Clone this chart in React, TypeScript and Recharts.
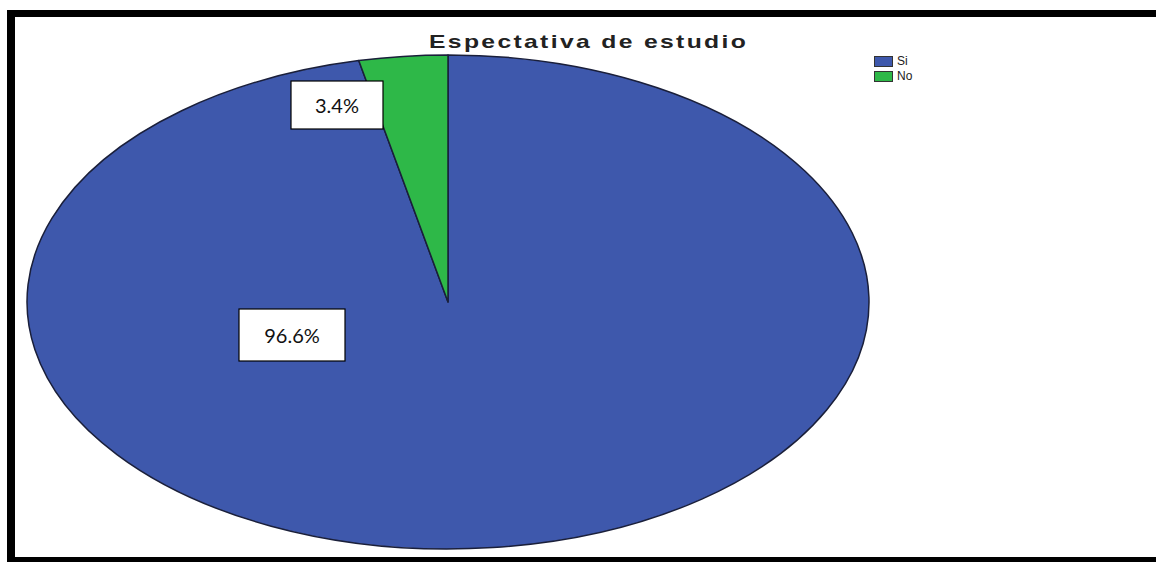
import React from 'react'
import { PieChart, Pie, Cell, Legend } from 'recharts'

const categories = ['Si', 'No']
const percents = [96.6, 3.4]
const labels = ['96.6%', '3.4%']
const colors = ['#3E58AC', '#2EB848']

const TITLE = 'Espectativa de estudio'
const W = 1156
const H = 562
const CX = 448
const CY = 302
const RY = 247
const RX = 421
const SX = RX / RY
const FONT = "'Liberation Sans', Arial, sans-serif"
const LABEL_FONT = "Lato, 'Open Sans', sans-serif"

// where the label boxes sit (the boxes were dragged by hand in the original)
const LABEL_BOX: Record<string, { x: number; y: number; w: number; h: number }> = {
  Si: { x: 239, y: 309, w: 106, h: 52 },
  No: { x: 291, y: 81, w: 92, h: 48 },
}

const data = categories.map((name, i) => ({ name, value: percents[i], label: labels[i] }))

const RAD = Math.PI / 180

// pie sector drawn as an ellipse slice: circle stretched along x
function EllipseSector(props: any) {
  const { cx, cy, outerRadius, startAngle, endAngle, fill } = props
  const rx = outerRadius * SX
  const ry = outerRadius
  const p = (a: number) => [cx + rx * Math.cos(-a * RAD), cy + ry * Math.sin(-a * RAD)]
  const [x0, y0] = p(startAngle)
  const [x1, y1] = p(endAngle)
  const large = Math.abs(endAngle - startAngle) > 180 ? 1 : 0
  const sweep = startAngle > endAngle ? 1 : 0
  const d = `M${cx},${cy} L${x0},${y0} A${rx},${ry} 0 ${large} ${sweep} ${x1},${y1} Z`
  return <path d={d} fill={fill} stroke="#1a1f3a" strokeWidth={1.5} strokeLinejoin="round" />
}

function renderLabel(props: any) {
  const b = LABEL_BOX[props.name]
  if (!b) return null
  return (
    <g>
      <rect x={b.x} y={b.y} width={b.w} height={b.h} fill="#fff" stroke="#000" strokeWidth={1.2} />
      <text
        x={b.x + b.w / 2}
        y={b.y + b.h / 2}
        textAnchor="middle"
        dominantBaseline="central"
        fontFamily={LABEL_FONT}
        fontSize={20}
        fill="#111"
      >
        {props.payload?.label ?? props.label}
      </text>
    </g>
  )
}

function LegendBox({ payload }: any) {
  const items = [...(payload || [])].sort(
    (a: any, b: any) => categories.indexOf(a.value) - categories.indexOf(b.value),
  )
  return (
    <div style={{ fontFamily: FONT, fontSize: 12, lineHeight: '15px', color: '#222' }}>
      {items.map((p: any) => (
        <div key={p.value} style={{ display: 'flex', alignItems: 'center', height: 15 }}>
          <span style={{
            display: 'inline-block', width: 17, height: 9, background: p.color,
            border: '1px solid #333', marginRight: 4,
          }} />
          {p.value}
        </div>
      ))}
    </div>
  )
}

export default function App() {
  return (
    <div style={{ position: 'absolute', left: 0, top: 0, width: W, height: H, overflow: 'hidden', background: '#fff' }}>
      {/* black frame, right side runs off the picture */}
      <div style={{
        position: 'absolute', left: 7, top: 10, width: 1200, height: 540,
        borderTop: '7px solid #000', borderLeft: '8px solid #000', borderBottom: '8px solid #000',
        boxSizing: 'content-box',
      }} />
      <div style={{
        position: 'absolute', left: 429, top: 31, fontFamily: FONT, fontWeight: 'bold',
        fontSize: 19, letterSpacing: 1.8, color: '#222', whiteSpace: 'nowrap',
        transform: 'scaleX(1.3)', transformOrigin: 'left top',
      }}>
        {TITLE}
      </div>
      <div style={{ position: 'absolute', left: 0, top: 0 }}>
        <PieChart width={W} height={H} margin={{ top: 0, right: 0, bottom: 0, left: 0 }}>
          <Pie
            data={data}
            dataKey="value"
            nameKey="name"
            cx={CX}
            cy={CY}
            outerRadius={RY}
            startAngle={90}
            endAngle={-270}
            stroke="#1a1f3a"
            shape={EllipseSector}
            inactiveShape={EllipseSector}
            label={renderLabel}
            labelLine={false}
            isAnimationActive={false}
          >
            {data.map((d, i) => <Cell key={d.name} fill={colors[i]} />)}
          </Pie>
          <Legend
            layout="horizontal"
            verticalAlign="bottom"
            align="center"
            height={0}
            content={<LegendBox />}
            wrapperStyle={{ position: 'absolute', left: 874, top: 54, bottom: 'auto', width: 60 }}
          />
        </PieChart>
      </div>
    </div>
  )
}
